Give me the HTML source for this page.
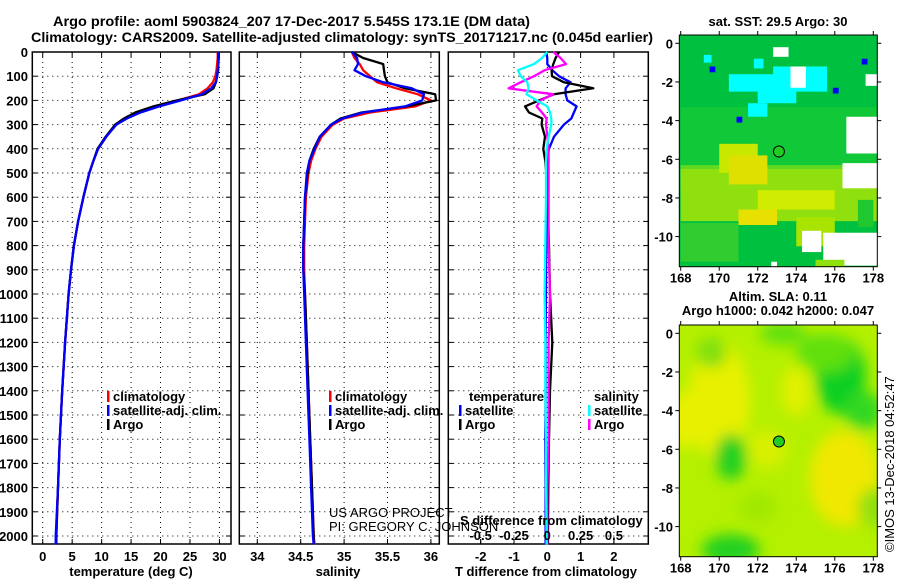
<!DOCTYPE html>
<html><head><meta charset="utf-8"><style>
body{margin:0;background:#fff;}
svg{display:block;font-family:"Liberation Sans",sans-serif;}
.b{font-weight:bold;font-size:13px;}
.t{font-weight:bold;font-size:14px;}
</style></head><body>
<svg id="fig" width="900" height="580" viewBox="0 0 900 580">
<text x="53" y="26" class="t" textLength="477" lengthAdjust="spacingAndGlyphs">Argo profile: aoml 5903824_207 17-Dec-2017 5.545S 173.1E (DM data)</text>
<text x="31" y="42" class="t" textLength="622" lengthAdjust="spacingAndGlyphs">Climatology: CARS2009. Satellite-adjusted climatology: synTS_20171217.nc (0.045d earlier)</text>
<g id="p1"></g>
<g id="p2"></g>
<g id="p3"></g>
<g id="m1"></g>
<g id="m2"></g>
<text x="329" y="517" font-size="13">US ARGO PROJECT</text>
<text x="329" y="531" font-size="13">PI: GREGORY C. JOHNSON</text>
<text transform="translate(894,552) rotate(-90)" font-size="13">©IMOS 13-Dec-2018 04:52:47</text>
</svg>
<script>
const depths=[0,25,50,75,100,125,150,175,200,225,250,275,300,350,400,450,500,600,700,800,900,1000,1200,1400,1600,1800,2000,2035];
const climT=[29.7,29.7,29.6,29.5,29.3,28.9,28.0,26.5,23.0,19.5,16.3,14.0,12.4,10.8,9.4,8.6,7.9,6.9,6.0,5.3,4.8,4.4,3.8,3.3,2.9,2.6,2.3,2.3];
const satT=[29.8,29.8,29.8,29.7,29.6,29.4,28.6,27.0,23.5,19.8,16.6,14.3,12.5,10.8,9.4,8.6,7.9,6.9,6.0,5.3,4.8,4.4,3.8,3.3,2.9,2.6,2.2,2.2];
const argoT=[29.9,29.9,29.8,29.8,29.6,29.4,29.0,27.5,22.8,18.8,15.7,13.8,12.3,10.7,9.3,8.6,7.9,6.9,6.0,5.3,4.8,4.4,3.8,3.3,2.9,2.6,2.3,2.3];
const climS=[35.09,35.12,35.18,35.22,35.3,35.38,35.6,35.85,36.0,35.82,35.3,35.0,34.87,34.74,34.67,34.62,34.59,34.56,34.55,34.54,34.54,34.55,34.57,34.59,34.61,34.63,34.65,34.66];
const satS=[35.09,35.15,35.16,35.12,35.25,35.45,35.78,35.92,35.9,35.7,35.22,34.98,34.85,34.72,34.66,34.6,34.57,34.55,34.54,34.53,34.53,34.54,34.56,34.58,34.6,34.62,34.64,34.65];
const argoS=[35.09,35.22,35.45,35.46,35.47,35.5,35.7,36.05,36.06,35.72,35.2,34.96,34.85,34.72,34.65,34.6,34.58,34.55,34.54,34.53,34.53,34.55,34.57,34.59,34.61,34.63,34.65,34.65];
const dDepths=[0,25,50,75,100,125,150,175,200,225,250,275,300,350,400,450,500,600,800,1000,1200,1400,1600,1800,2000,2035];
const satDT=[-0.04,0.0,0.0,0.15,0.35,0.7,0.55,0.55,0.6,0.88,0.8,0.72,0.5,0.2,0.05,-0.02,-0.02,-0.03,-0.03,-0.04,-0.05,-0.05,-0.06,-0.05,-0.05,-0.05];
const argoDT=[0.35,0.25,0.18,0.13,0.14,0.5,1.38,0.2,-0.25,-0.67,-0.55,-0.15,-0.17,-0.07,-0.12,-0.06,-0.03,0.0,0.05,0.08,0.15,0.08,0.05,0.03,0.02,0.02];
const satDS=[0,-0.04,-0.1,-0.22,-0.2,-0.15,-0.14,-0.155,-0.08,0.0,0.02,0.03,0.03,0.01,-0.005,-0.01,-0.01,-0.01,-0.015,-0.02,-0.015,-0.015,-0.01,-0.01,-0.005,-0.005];
const argoDS=[0.045,0.1,0.14,-0.02,-0.1,-0.2,-0.29,0.045,-0.05,-0.08,-0.04,-0.005,-0.01,0.0,0.01,0.01,0.01,0.01,0.01,0.02,0.01,0.01,0.01,0.0,0.0,0.0];
const depthTicks=[0,100,200,300,400,500,600,700,800,900,1000,1100,1200,1300,1400,1500,1600,1700,1800,1900,2000];
const tempTicks=[0,5,10,15,20,25,30];
const salTicks=[34,34.5,35,35.5,36];
const dtTicks=[-2,-1,0,1,2];
const dsTicks=[-0.5,-0.25,0,0.25,0.5];
const dsTickLabels=["-0.5","-0.25","0","0.25","0.5"];
const lonTicks=[168,170,172,174,176,178];
const latTicks=[0,-2,-4,-6,-8,-10];
const argoLon=173.1, argoLat=-5.6;

const NS="http://www.w3.org/2000/svg";
function mk(parent,tag,attrs,text){const e=document.createElementNS(NS,tag);for(const k in attrs)e.setAttribute(k,attrs[k]);if(text!==undefined)e.textContent=text;parent.appendChild(e);return e;}
const TOP=52,BOT=544;
const yD=d=>TOP+d*0.242;
const xT=t=>32.3+(t+1.77)*5.89;
const xS=s=>257.3+(s-34)*86.8;
const xDT=t=>547.3+t*33.3;
const xDS=s=>547.3+s*133.3;

function frame(g,x0,x1,xt,xfn,labels,ylab){
  // grid
  depthTicks.forEach(d=>{const l=mk(g,'line',{x1:x0,x2:x1,y1:yD(d),y2:yD(d),stroke:'#000','stroke-width':1,'stroke-dasharray':'1,4'});
    
    
    mk(g,'line',{x1:x0,x2:x0+5,y1:yD(d),y2:yD(d),stroke:'#000'});mk(g,'line',{x1:x1-5,x2:x1,y1:yD(d),y2:yD(d),stroke:'#000'});
    if(ylab){const t=mk(g,'text',{x:28,y:yD(d)+5,'text-anchor':'end',class:'b'},String(d));
      
      }
  });
  xt.forEach((v,i)=>{const x=xfn(v);
    const l=mk(g,'line',{x1:x,x2:x,y1:TOP,y2:BOT,stroke:'#000','stroke-width':1,'stroke-dasharray':'1,4'});
    
    
    mk(g,'line',{x1:x,x2:x,y1:BOT-5,y2:BOT,stroke:'#000'});mk(g,'line',{x1:x,x2:x,y1:TOP,y2:TOP+5,stroke:'#000'});
    if(labels){const t=mk(g,'text',{x:x,y:561,'text-anchor':'middle',class:'b'},labels[i]);
      
      }
  });
  const r=mk(g,'rect',{x:x0,y:TOP,width:x1-x0,height:BOT-TOP,fill:'none',stroke:'#000','stroke-width':1.5});
  
  
}
function line(g,xs,ds,xfn,color,name){
  const pts=xs.map((v,i)=>xfn(v).toFixed(1)+','+yD(ds[i]).toFixed(1)).join(' ');
  const p=mk(g,'polyline',{points:pts,fill:'none',stroke:color,'stroke-width':2.3,'stroke-linejoin':'round'});
  
  
}
function legend(g,x,y,color,label){
  mk(g,'rect',{x:x,y:y-10,width:2.5,height:11,fill:color});
  const t=mk(g,'text',{x:x+6,y:y,class:'b'},label);
  
  
}
// panel 1
const p1=document.getElementById('p1');
frame(p1,32.3,231,tempTicks,xT,tempTicks.map(String),true);
const cp1=mk(p1,'g',{});
line(cp1,climT,depths,xT,'#f00','temp-climatology-line');
line(cp1,argoT,depths,xT,'#000','temp-argo-line');
line(cp1,satT,depths,xT,'#00f','temp-satellite-line');
legend(p1,107,401,'#f00','climatology');legend(p1,107,415,'#00f','satellite-adj. clim.');legend(p1,107,429,'#000','Argo');
let t=mk(p1,'text',{x:131,y:576,'text-anchor':'middle',class:'b'},'temperature (deg C)');

// panel 2
const p2=document.getElementById('p2');
frame(p2,239.3,439.3,salTicks,xS,salTicks.map(String),false);
line(p2,climS,depths,xS,'#f00','sal-climatology-line');
line(p2,argoS,depths,xS,'#000','sal-argo-line');
line(p2,satS,depths,xS,'#00f','sal-satellite-line');
legend(p2,329,401,'#f00','climatology');legend(p2,329,415,'#00f','satellite-adj. clim.');legend(p2,329,429,'#000','Argo');
t=mk(p2,'text',{x:338,y:576,'text-anchor':'middle',class:'b'},'salinity');

// panel 3
const p3=document.getElementById('p3');
frame(p3,448.3,648.3,dtTicks,xDT,dtTicks.map(String),false);
dsTicks.forEach(v=>{mk(p3,'line',{x1:xDS(v),x2:xDS(v),y1:BOT-5,y2:BOT,stroke:'#000'});});
line(p3,satDT,dDepths,xDT,'#00f','dt-satellite-line');
line(p3,argoDT,dDepths,xDT,'#000','dt-argo-line');
line(p3,argoDS,dDepths,xDS,'#f0f','ds-argo-line');
line(p3,satDS,dDepths,xDS,'#0ff','ds-satellite-line');
t=mk(p3,'text',{x:469,y:401,class:'b'},'temperature');
t=mk(p3,'text',{x:594,y:401,class:'b'},'salinity');
legend(p3,459,415,'#00f','satellite');legend(p3,459,429,'#000','Argo');
legend(p3,588,415,'#0ff','satellite');legend(p3,588,429,'#f0f','Argo');
t=mk(p3,'text',{x:460,y:525,class:'b'},'S difference from climatology');
dsTicks.forEach((v,i)=>{const e=mk(p3,'text',{x:xDS(v),y:540,'text-anchor':'middle',class:'b'},dsTickLabels[i]);
  });
t=mk(p3,'text',{x:546,y:576,'text-anchor':'middle',class:'b'},'T difference from climatology');


// maps
function map(id,top,bot,lat0,title,patches,base,blur){
  const g=document.getElementById(id);
  const L=679.3,R=877.3;
  const xL=lon=>680.7+(lon-168)*19.26, yL=lat=>lat0+(-lat)*19.33;
  const clipId='c'+id;
  const defs=mk(g,'defs',{});
  const cp=mk(defs,'clipPath',{id:clipId});mk(cp,'rect',{x:L,y:top,width:R-L,height:bot-top});
  if(blur){const f=mk(defs,'filter',{id:'f'+id,x:'-50%',y:'-50%',width:'200%',height:'200%'});mk(f,'feGaussianBlur',{stdDeviation:blur});}
  const inner=mk(g,'g',{'clip-path':'url(#'+clipId+')'});
  mk(inner,'rect',{x:L,y:top,width:R-L,height:bot-top,fill:base});
  const pg=mk(inner,'g',blur?{filter:'url(#f'+id+')'}:{});
  patches.forEach(p=>{
    if(p[0]==='e') mk(pg,'ellipse',{cx:xL(p[1]),cy:yL(p[2]),rx:p[3]*19.3,ry:p[4]*19.3,fill:p[5]});
    else mk(pg,'rect',{x:xL(p[1]),y:yL(p[2]),width:p[3]*19.26,height:p[4]*19.33,fill:p[5]});
  });
  const c=mk(inner,'circle',{cx:xL(argoLon),cy:yL(argoLat),r:5.5,fill:'#22cc22',stroke:'#000','stroke-width':1});
  
  mk(g,'rect',{x:L,y:top,width:R-L,height:bot-top,fill:'none',stroke:'#000','stroke-width':1});
  lonTicks.forEach(v=>{mk(g,'line',{x1:xL(v),x2:xL(v),y1:bot,y2:bot+4,stroke:'#000'});mk(g,'line',{x1:xL(v),x2:xL(v),y1:top,y2:top-4,stroke:'#000'});
    const e=mk(g,'text',{x:xL(v),y:bot+16,'text-anchor':'middle',class:'b'},String(v));});
  latTicks.forEach(v=>{mk(g,'line',{x1:L-4,x2:L,y1:yL(v),y2:yL(v),stroke:'#000'});mk(g,'line',{x1:R,x2:R+4,y1:yL(v),y2:yL(v),stroke:'#000'});
    const e=mk(g,'text',{x:673,y:yL(v)+5,'text-anchor':'end',class:'b'},String(v));});
  title.forEach((s,i)=>{const e=mk(g,'text',{x:778,y:(id==='m1'?26:301)+i*14,'text-anchor':'middle',class:'b'},s);});
}
const sstPatches=[
 ['r',168,-3.3,10.2,3.3,'#10c838'],['r',168,-6.3,10.2,1.2,'#60d820'],
 ['r',168,-6.5,10.2,2.7,'#90e010'],['r',170,-5.2,2,1.5,'#c8e800'],['r',170.5,-5.8,2,1.5,'#e0e000'],
 ['r',172,-7.6,4,1,'#d0ec00'],['r',171,-8.6,2,0.8,'#e8e000'],['r',168,-11.5,10.2,2,'#10c838'],
 ['r',168,-9.3,3,2,'#30cc30'],['r',174,-9,2,1.5,'#a8e400'],
 ['r',172.8,-1.2,2.8,1.3,'#00ffff'],['r',170.5,-1.6,2.5,0.9,'#00ffff'],['r',172,-2.3,2,0.8,'#00ffff'],
 ['r',171.5,-3.1,1,0.7,'#00ffff'],['r',169.2,-0.6,0.4,0.4,'#00ffff'],['r',171.8,-0.8,0.5,0.5,'#00ffff'],
 ['r',172.8,-0.2,0.8,0.5,'#fff'],['r',173.7,-1.2,0.8,1.1,'#fff'],['r',176.6,-3.8,1.6,1.9,'#fff'],
 ['r',176.4,-6.2,1.8,1.3,'#fff'],['r',175.4,-9.8,2.8,1.7,'#fff'],['r',174.3,-9.7,1,1.1,'#fff'],
 ['r',177,-10.3,1.4,0.9,'#fff'],['r',177.6,-1.6,0.6,0.6,'#fff'],['r',172.7,-11.3,0.3,0.5,'#fff'],
 ['r',177.4,-0.8,0.3,0.3,'#0000ff'],['r',175.9,-2.3,0.3,0.3,'#0000ff'],['r',170.9,-3.8,0.3,0.3,'#0000ff'],['r',169.5,-1.2,0.3,0.3,'#0000ff'],
 ['r',177.2,-8.1,0.8,1.4,'#20c830'],['r',175,-11.2,1.5,1.2,'#90e010']
];
const slaPatches=[
 ['e',170,-3.5,1.6,3,'#e8f000'],['e',174,-3,0.8,1.3,'#e0f000'],['e',176.5,-7.5,1.8,2.5,'#f0e800'],
 ['e',168.2,-4.5,0.8,1.5,'#e8f000'],['e',172.5,-6,1,1,'#d8f000'],
 ['e',176.3,-2.2,1.3,2,'#10d020'],['e',177.5,-4,1,1,'#30d820'],['e',173.3,0,1.2,0.6,'#60e010'],
 ['e',170.6,-6.4,0.8,1.2,'#20d020'],['e',170.6,-11.2,1.5,0.8,'#20d020'],['e',169.6,-1,0.8,0.8,'#80e010'],
 ['e',178,-9,0.8,1,'#90e010'],['e',172,-9,1,0.8,'#a0e800'],['e',175.5,-1,1.5,1,'#60e010']
];
map('m1',35,266.7,43.3,['sat. SST: 29.5 Argo: 30'],sstPatches,'#00c040',0);
map('m2',325,556.7,333.3,['Altim. SLA: 0.11','Argo h1000: 0.042 h2000: 0.047'],slaPatches,'#b4f000',7);
</script>
</body></html>
